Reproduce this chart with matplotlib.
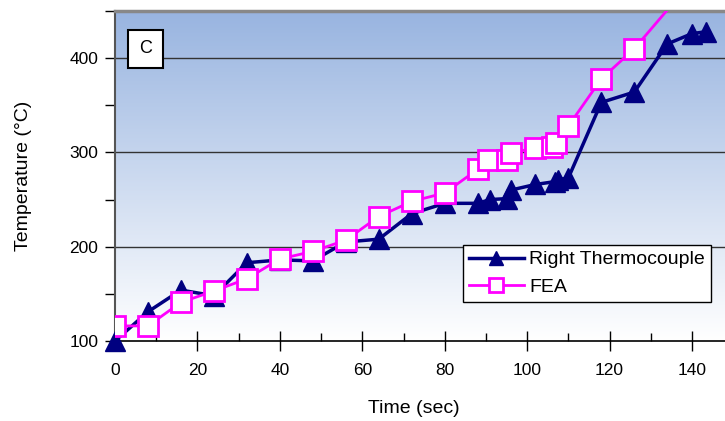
import matplotlib.pyplot as plt
import numpy as np
from matplotlib.colors import LinearSegmentedColormap
from matplotlib.ticker import MultipleLocator

plt.rcParams['font.family'] = ['Liberation Sans', 'DejaVu Sans']

# Right thermocouple readings (time in sec, temperature in C)
tc_time = [0, 8, 16, 24, 32, 40, 48, 56, 64, 72, 80, 88, 91, 95, 96, 102, 106.7, 107.5, 110, 118, 126, 134, 140, 143.5]
tc_temp = [100, 131, 154, 148, 183, 186, 185, 205, 208, 235, 246, 246, 250, 251, 260, 266, 269, 271, 273, 353, 364, 415, 426, 428]

# FEA prediction
fea_time = [0, 8, 16, 24, 32, 40, 48, 56, 64, 72, 80, 88, 90.5, 95, 96, 102, 106, 107, 110, 118, 126, 142]
fea_temp = [116, 116, 141, 153, 166, 187, 195, 207, 232, 248, 257, 282, 292, 292, 299, 305, 306, 310, 328, 378, 410, 492]

fig = plt.figure(figsize=(7.25, 4.21), dpi=100)
ax = fig.add_axes([0.1586, 0.19, 0.8414, 0.784])

ax.set_xlim(0, 148)
ax.set_ylim(100, 450)

# gradient background, white at the bottom to blue at the top
cmap = LinearSegmentedColormap.from_list('bg', ['#ffffff', '#98b4e0'])
grad = np.linspace(0, 1, 256).reshape(-1, 1)
ax.imshow(grad, extent=[0, 1, 0, 1], transform=ax.transAxes, cmap=cmap,
          aspect='auto', origin='lower', zorder=0)

for y in [200, 300, 400]:
    ax.axhline(y, color='#333333', lw=1.0, zorder=1)

ax.plot(tc_time, tc_temp, color='#000080', lw=2.5, marker='^', markersize=14,
        markerfacecolor='#000080', markeredgecolor='#000080', label='Right Thermocouple',
        zorder=3, clip_on=False)
ax.plot(fea_time, fea_temp, color='#ff00ff', lw=2, marker='s', markersize=15,
        markerfacecolor='white', markeredgecolor='#ff00ff', markeredgewidth=2, label='FEA',
        zorder=4)

ax.xaxis.set_major_locator(MultipleLocator(20))
ax.xaxis.set_minor_locator(MultipleLocator(10))
ax.yaxis.set_minor_locator(MultipleLocator(50))
ax.set_yticks([100, 200, 300, 400])
ax.tick_params(axis='x', which='major', direction='inout', length=14, width=1, labelsize=12.5, pad=9)
ax.tick_params(axis='x', which='minor', direction='in', length=6, width=1)
ax.tick_params(axis='y', which='both', direction='out', length=7, width=1, labelsize=12.5, pad=5)

ax.spines['right'].set_visible(False)
ax.spines['top'].set_color('#888888')
ax.spines['top'].set_linewidth(2.5)
ax.spines['left'].set_color('#555555')
ax.spines['left'].set_linewidth(1.5)
ax.spines['bottom'].set_linewidth(1.2)

ax.set_xlabel('Time (sec)', fontsize=14)
ax.set_ylabel('Temperature (°C)', fontsize=14)
ax.xaxis.set_label_coords(0.49, -0.18)
ax.yaxis.set_label_coords(-0.136, 0.5)

ax.text(0.05, 0.885, 'C', transform=ax.transAxes, fontsize=13, ha='center', va='center',
        bbox=dict(boxstyle='square,pad=0.6', facecolor='white', edgecolor='black', lw=1.5),
        zorder=5)

leg = ax.legend(loc='lower right', bbox_to_anchor=(0.993, 0.09), fontsize=14, frameon=True,
                fancybox=False, edgecolor='black', framealpha=1, handlelength=2.8,
                borderpad=0.3, labelspacing=0.5, handletextpad=0.3, markerscale=0.7)
leg.get_frame().set_linewidth(1)
leg.set_zorder(6)

fig.savefig('out.png', dpi=100)
